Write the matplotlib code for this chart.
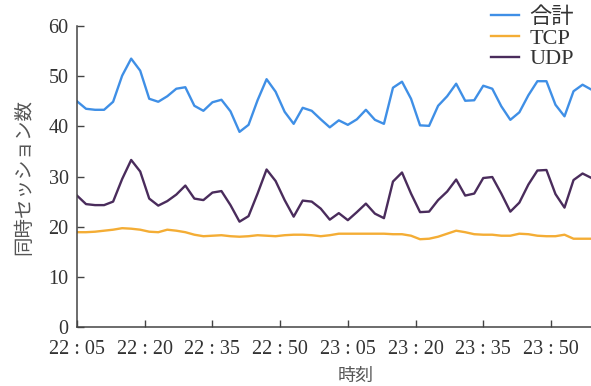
import numpy as np
import matplotlib
matplotlib.use("Agg")
import matplotlib.pyplot as plt

plt.rcParams['font.family'] = ['Liberation Serif', 'Noto Sans CJK JP']

# 22:05 からの経過時間 (分), 2分ごとのサンプル
minutes = np.arange(0, 116, 2)

total = [45.0, 43.5, 43.3, 43.3, 44.9, 50.1, 53.5, 51.1, 45.5, 44.9,
         46.0, 47.5, 47.8, 44.1, 43.1, 44.8, 45.3, 43.0, 38.9, 40.3,
         45.2, 49.4, 46.9, 42.9, 40.5, 43.7, 43.1, 41.4, 39.8, 41.2,
         40.3, 41.4, 43.3, 41.3, 40.5, 47.7, 48.9, 45.5, 40.2, 40.1,
         44.1, 46.0, 48.5, 45.1, 45.2, 48.1, 47.5, 44.0, 41.3, 42.8,
         46.2, 49.0, 49.0, 44.3, 42.0, 47.0, 48.3, 47.3]

tcp = [18.9, 18.9, 19.0, 19.2, 19.4, 19.7, 19.6, 19.4, 19.0, 18.9,
       19.4, 19.2, 18.9, 18.4, 18.1, 18.2, 18.3, 18.1, 18.0, 18.1,
       18.3, 18.2, 18.1, 18.3, 18.4, 18.4, 18.3, 18.1, 18.3, 18.6,
       18.6, 18.6, 18.6, 18.6, 18.6, 18.5, 18.5, 18.2, 17.5, 17.6,
       18.0, 18.6, 19.2, 18.9, 18.5, 18.4, 18.4, 18.2, 18.2, 18.6,
       18.5, 18.2, 18.1, 18.1, 18.4, 17.6, 17.6, 17.6]

udp = [26.2, 24.5, 24.3, 24.3, 25.0, 29.5, 33.3, 31.0, 25.6, 24.2,
       25.1, 26.4, 28.2, 25.6, 25.3, 26.8, 27.1, 24.3, 21.0, 22.1,
       26.6, 31.4, 29.1, 25.3, 22.0, 25.2, 25.0, 23.6, 21.4, 22.7,
       21.3, 22.9, 24.6, 22.6, 21.7, 29.0, 30.8, 26.6, 22.9, 23.0,
       25.3, 27.0, 29.4, 26.2, 26.6, 29.7, 29.9, 26.6, 23.0, 24.8,
       28.4, 31.2, 31.3, 26.5, 23.8, 29.3, 30.6, 29.7]

tick_labels = ["22 : 05", "22 : 20", "22 : 35", "22 : 50",
               "23 : 05", "23 : 20", "23 : 35", "23 : 50"]
tick_pos = [15 * i for i in range(len(tick_labels))]

fig = plt.figure(figsize=(5.91, 3.86), dpi=100)
ax = fig.add_axes([0.1303, 0.1528, 0.944, 0.7798])

ax.plot(minutes, total, color='#3f8fe6', lw=1.7, label='合計')
ax.plot(minutes, tcp, color='#f4ad35', lw=1.7, label='TCP')
ax.plot(minutes, udp, color='#4a2c5c', lw=1.7, label='UDP')

ax.set_xlim(0, 123.6)
ax.set_ylim(0, 60)
ax.set_yticks(range(0, 61, 10))
ax.set_xticks(tick_pos)
ax.set_xticklabels(tick_labels)

for side in ('top', 'right'):
    ax.spines[side].set_visible(False)
for side in ('left', 'bottom'):
    ax.spines[side].set_color('#444444')
    ax.spines[side].set_linewidth(1.1)

ax.tick_params(direction='in', length=5, width=1, colors='#444444',
               labelsize=14.5, labelcolor='#333333')
ax.tick_params(axis='x', pad=9)
ax.tick_params(axis='y', pad=6)

ax.set_ylabel('同時セッション数', family='Noto Sans CJK JP', fontsize=14,
              color='#555555', labelpad=10)
ax.set_xlabel('時刻', family='Noto Sans CJK JP', fontsize=13,
              color='#555555', labelpad=6)

ax.legend(loc='upper left', bbox_to_anchor=(478 / 591, 1.015),
          bbox_transform=fig.transFigure, frameon=False, fontsize=16,
          handlelength=1.25, handletextpad=0.45, labelspacing=0.0,
          borderpad=0.1, labelcolor='#333333')

fig.savefig('out.png', dpi=100)
